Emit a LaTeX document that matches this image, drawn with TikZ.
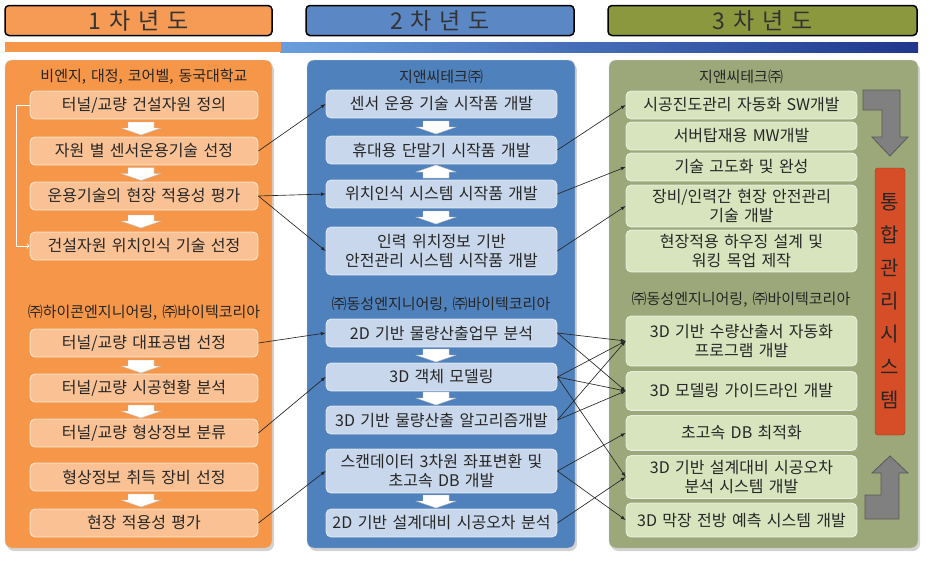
\documentclass[tikz,border=0pt]{standalone}
\usepackage{fontspec}
\setmainfont[WordSpace=1.5]{Noto Sans CJK KR}
\usepackage{tikz}
\usetikzlibrary{arrows, shadows, calc}
\usepackage{xcolor}

\definecolor{orgpanel}{RGB}{246,150,72}
\definecolor{orgbox}{RGB}{250,194,148}
\definecolor{orghead}{RGB}{245,155,85}
\definecolor{bluepanel}{RGB}{79,129,189}
\definecolor{bluebox}{RGB}{200,215,235}
\definecolor{bluehead}{RGB}{91,135,197}
\definecolor{bandlight}{RGB}{105,158,222}
\definecolor{banddark}{RGB}{30,55,140}
\definecolor{grnpanel}{RGB}{156,168,122}
\definecolor{grnbox}{RGB}{216,228,190}
\definecolor{grnhead}{RGB}{140,152,62}
\definecolor{redbar}{RGB}{214,78,40}

\begin{document}
\begin{tikzpicture}[x=1pt, y=-1pt,
    header/.style={rectangle, rounded corners=4pt, draw=black, line width=1.5pt, minimum height=30pt, font=\fontsize{23}{25}\selectfont, text=black!80},
    panel/.style={rectangle, rounded corners=7pt, draw=black!20, minimum height=488pt, drop shadow={shadow xshift=2pt, shadow yshift=-3pt, opacity=0.35}},
    title/.style={font=\fontsize{15}{17}\selectfont, text=black!85},
    item/.style={rectangle, rounded corners=5pt, draw=white, draw opacity=0.7, line width=0.8pt, minimum height=28pt, align=center, inner sep=1pt, font=\fontsize{16}{19.5}\selectfont, text=black!85},
    col1/.style={item, fill=orgbox, minimum width=228pt},
    col2/.style={item, fill=bluebox, minimum width=231pt},
    col3/.style={item, fill=grnbox, minimum width=231pt},
    link/.style={-latex, black!85, line width=0.65pt},
    loopback/.style={->, white, line width=1pt},
    bent/.style={fill=black!50, draw=black!65, line width=0.8pt},
    sysbar/.style={rectangle, rounded corners=3pt, fill=redbar, draw=redbar!70!black, minimum width=30pt, minimum height=267pt, align=center, font=\fontsize{20}{33}\selectfont, text=black!85},
    blockdown/.pic={\draw[fill=white, draw=black!25] (-13,-6) -- (13,-6) -- (13,0) -- (20,0) -- (0,7) -- (-20,0) -- (-13,0) -- cycle;},
    blockup/.pic={\draw[fill=white, draw=black!25] (-13,6) -- (13,6) -- (13,0) -- (20,0) -- (0,-7) -- (-20,0) -- (-13,0) -- cycle;}
]
    \useasboundingbox (0,0) rectangle (930,562);

    % Year headers
    \node[header, fill=orghead, minimum width=267pt] (year1) at (138.5,20.5) {1 차 년 도};
    \node[header, fill=bluehead, minimum width=268pt] (year2) at (440,20.5) {2 차 년 도};
    \node[header, fill=grnhead, minimum width=309pt] (year3) at (762.5,20.5) {3 차 년 도};

    % Band
    \shade[left color=bandlight, right color=banddark] (280,42) rectangle (918,52);
    \fill[orgpanel] (5,42) rectangle (281,52);

    % Panels
    \node[panel, fill=orgpanel, minimum width=267pt] (panel1) at (138.5,304) {};
    \node[panel, fill=bluepanel, minimum width=268pt] (panel2) at (441,304) {};
    \node[panel, fill=grnpanel, minimum width=309pt] (panel3) at (763.5,304) {};

    % 1st year
    \node[title] (t1a) at (144,77) {비엔지, 대정, 코어벨, 동국대학교};
    \node[col1] (c1a) at (144,105) {터널/교량 건설자원 정의};
    \node[col1] (c1b) at (144,151) {자원 별 센서운용기술 선정};
    \node[col1] (c1c) at (144,196) {운용기술의 현장 적용성 평가};
    \node[col1] (c1d) at (144,246) {건설자원 위치인식 기술 선정};
    \node[title] (t1b) at (144,313) {㈜하이콘엔지니어링, ㈜바이텍코리아};
    \node[col1] (c1e) at (144,343) {터널/교량 대표공법 선정};
    \node[col1] (c1f) at (144,388) {터널/교량 시공현황 분석};
    \node[col1] (c1g) at (144,433) {터널/교량 형상정보 분류};
    \node[col1] (c1h) at (144,477) {형상정보 취득 장비 선정};
    \node[col1] (c1i) at (144,523) {현장 적용성 평가};

    \pic (d1a) at (141,128) {blockdown};
    \pic (d1b) at (141,173.5) {blockdown};
    \pic (d1c) at (141,221) {blockdown};
    \pic (d1d) at (141,366) {blockdown};
    \pic (d1e) at (141,411) {blockdown};
    \pic (d1f) at (141,500) {blockdown};

    \draw[loopback] (c1a.west) -- ++(-13,0) |- (c1d.west);

    % 2nd year
    \node[title] (t2a) at (441,77) {지앤씨테크㈜};
    \node[col2] (c2a) at (441.5,104) {센서 운용 기술 시작품 개발};
    \node[col2] (c2b) at (441.5,150) {휴대용 단말기 시작품 개발};
    \node[col2] (c2c) at (441.5,194) {위치인식 시스템 시작품 개발};
    \node[col2, minimum height=48pt] (c2d) at (441.5,251) {인력 위치정보 기반\\안전관리 시스템 시작품 개발};
    \node[title] (t2b) at (441,305) {㈜동성엔지니어링, ㈜바이텍코리아};
    \node[col2] (c2e) at (441.5,333) {2D 기반 물량산출업무 분석};
    \node[col2] (c2f) at (441.5,377) {3D 객체 모델링};
    \node[col2] (c2g) at (441.5,420) {3D 기반 물량산출 알고리즘개발};
    \node[col2, minimum height=44pt] (c2h) at (441.5,471) {스캔데이터 3차원 좌표변환 및\\초고속 DB 개발};
    \node[col2] (c2i) at (441.5,523) {2D 기반 설계대비 시공오차 분석};

    \pic (d2a) at (436,127) {blockdown};
    \pic (u2b) at (436,172) {blockup};
    \pic (d2c) at (436,217) {blockdown};
    \pic (d2d) at (436,355) {blockdown};
    \pic (d2e) at (436,398) {blockdown};
    \pic (d2f) at (436,501) {blockdown};

    % 3rd year
    \node[title] (t3a) at (741,77) {지앤씨테크㈜};
    \node[col3] (c3a) at (741.5,105) {시공진도관리 자동화 SW개발};
    \node[col3] (c3b) at (741.5,136) {서버탑재용 MW개발};
    \node[col3] (c3c) at (741.5,167) {기술 고도화 및 완성};
    \node[col3, minimum height=42pt] (c3d) at (741.5,206) {장비/인력간 현장 안전관리\\기술 개발};
    \node[col3, minimum height=42pt] (c3e) at (741.5,251) {현장적용 하우징 설계 및\\워킹 목업 제작};
    \node[title] (t3b) at (741,300) {㈜동성엔지니어링, ㈜바이텍코리아};
    \node[col3, minimum height=50pt] (c3f) at (741.5,341) {3D 기반 수량산출서 자동화\\프로그램 개발};
    \node[col3, minimum height=39pt] (c3g) at (741.5,391) {3D 모델링 가이드라인 개발};
    \node[col3, minimum height=35pt] (c3h) at (741.5,433) {초고속 DB 최적화};
    \node[col3, minimum height=43pt] (c3i) at (741.5,477) {3D 기반 설계대비 시공오차\\분석 시스템 개발};
    \node[col3, minimum height=34pt] (c3j) at (741.5,520) {3D 막장 전방 예측 시스템 개발};

    % Integrated system
    \node[sysbar] (sys) at (890,301.5) {통\\합\\관\\리\\시\\스\\템};
    \draw[bent] (863,90) -- (900,90) -- (900,137) -- (908,137) -- (890,156) -- (872,137) -- (882,137) -- (882,110) -- (863,110) -- cycle;
    \draw[bent] (865,519) -- (899,519) -- (899,473) -- (908,473) -- (890,456) -- (872,473) -- (881,473) -- (881,495) -- (865,495) -- cycle;

    % Links 1st -> 2nd
    \draw[link] (c1b.east) -- (c2a.west);
    \draw[link] (c1c.east) -- (c2c.west);
    \draw[link] (c1c.east) -- (c2d.west);
    \draw[link] (c1e.east) -- (c2e.west);
    \draw[link] (c1g.east) -- (c2f.west);
    \draw[link] (c1i.east) -- (c2h.west);

    % Links 2nd -> 3rd
    \draw[link] (c2b.east) -- (c3a.west);
    \draw[link] (c2c.east) -- (c3c.west);
    \draw[link] (c2d.east) -- (c3d.west);
    \draw[link] (c2e.east) -- (c3f.west);
    \draw[link] (c2e.east) -- (c3g.west);
    \draw[link] (c2f.east) -- (c3f.west);
    \draw[link] (c2f.east) -- (c3g.west);
    \draw[link] (c2f.east) -- (c3i.west);
    \draw[link] (c2g.east) -- (c3f.west);
    \draw[link] (c2g.east) -- (c3g.west);
    \draw[link] (c2h.east) -- (c3h.west);
    \draw[link] (c2h.east) -- (c3j.west);
    \draw[link] (c2i.east) -- (c3i.west);
\end{tikzpicture}
\end{document}
